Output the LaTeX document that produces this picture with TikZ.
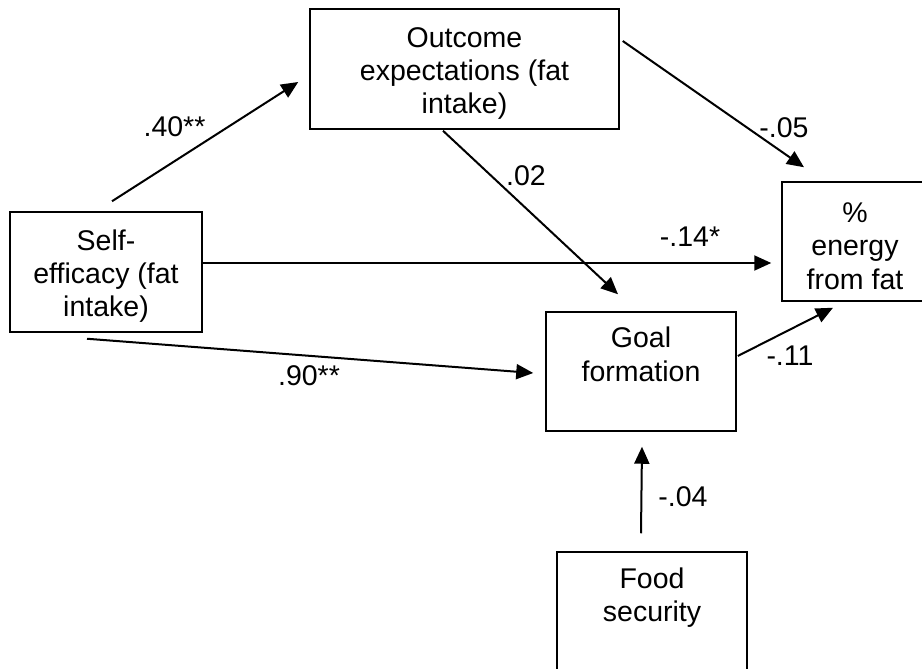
\documentclass[tikz,border=0pt]{standalone}
\usepackage{fontspec}
\setmainfont{Liberation Sans}
\usetikzlibrary{arrows.meta}
\newcommand{\toprule}{\rule{0pt}{29pt}}
\begin{document}
\begin{tikzpicture}[x=1pt,y=-1pt,
  box/.style={draw, line width=1.5pt, inner sep=0pt, align=center,
    font=\fontsize{28.5}{33.3}\selectfont},
  coef/.style={inner sep=0pt, font=\fontsize{28.5}{33.3}\selectfont},
  link/.style={line width=2pt, -{Triangle[length=17pt,width=15pt]}}]
\useasboundingbox (0,0) rectangle (922,669);
\clip (0,0) rectangle (922,669);

% variables of the path model
\node[box, minimum width=192pt, minimum height=120pt] (se) at (106,272)
  {\toprule Self-\\efficacy (fat\\intake)};
\node[box, minimum width=309pt, minimum height=120pt] (oe) at (464.5,69)
  {\toprule Outcome\\expectations (fat\\intake)};
\node[box, minimum width=146pt, minimum height=119pt] (en) at (855,241.5)
  {\toprule\%\\energy\\from fat};
\node[box, minimum width=190pt, minimum height=119pt] (gf) at (641,371.5)
  {\toprule Goal\\formation\\\strut};
\node[box, minimum width=190pt, minimum height=120pt] (fs) at (652,612)
  {\toprule Food\\security\\\strut};

% paths
\draw[link] ([xshift=6pt,yshift=10pt]se.north) -- ([xshift=-11pt,yshift=-13pt]oe.west);
\draw[link] ([xshift=3pt,yshift=28pt]oe.east) -- ([xshift=-51pt,yshift=14pt]en.north);
\draw[link] ([xshift=-21.5pt,yshift=-1pt]oe.south) -- ([xshift=-23pt,yshift=17pt]gf.north);
\draw[link] ([yshift=9pt]se.east) -- ([xshift=-10pt,yshift=-21.5pt]en.west);
\draw[link] ([xshift=-19pt,yshift=-6pt]se.south) -- ([xshift=-12pt,yshift=-1.5pt]gf.west);
\draw[link] ([xshift=1pt,yshift=15.5pt]gf.east) -- ([xshift=-22pt,yshift=-6pt]en.south);
\draw[link] ([xshift=-11pt,yshift=18pt]fs.north) -- ([xshift=1pt,yshift=-15pt]gf.south);

% path coefficients
\node[coef] (c40) at (174.5,127) {.40**};
\node[coef] (c05) at (784,128) {-.05};
\node[coef] (c02) at (526,176) {.02};
\node[coef] (c14) at (690,237) {-.14*};
\node[coef] (c90) at (309,376) {.90**};
\node[coef] (c11) at (790,356) {-.11};
\node[coef] (c04) at (683,497) {-.04};
\end{tikzpicture}
\end{document}
